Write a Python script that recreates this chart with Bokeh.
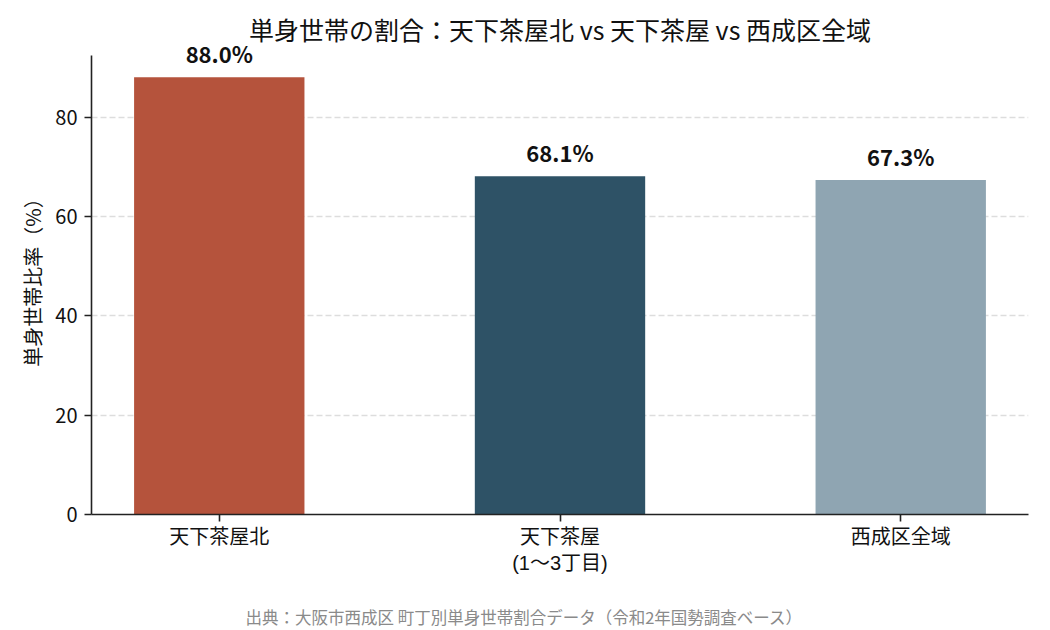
from bokeh.plotting import figure
from bokeh.models import ColumnDataSource, LabelSet, Range1d, FactorRange, Title
from bokeh.core.properties import value
from bokeh.embed import file_html
from bokeh.resources import INLINE

# ---- data ----
categories = ["天下茶屋北", "天下茶屋\n(1〜3丁目)", "西成区全域"]
values = [88.0, 68.1, 67.3]
colors = ["#B5533C", "#2E5266", "#8FA5B2"]
value_labels = [f"{v:.1f}%" for v in values]
y_ticks = [0, 20, 40, 60, 80]

title_text = "単身世帯の割合：天下茶屋北 vs 天下茶屋 vs 西成区全域"
y_label = "単身世帯比率（%）"
footer_text = "出典：大阪市西成区 町丁別単身世帯割合データ（令和2年国勢調査ベース）"

FONT = "Noto Sans CJK JP"
XFONT = "'Liberation Sans', 'Noto Sans CJK JP'"

axis_top = max(values) * 1.05          # end of the visible y spine
view_top = axis_top + 3.0              # headroom so the value labels are not clipped

src = ColumnDataSource(dict(cat=categories, val=values, color=colors, label=value_labels))

p = figure(
    width=1050, height=630,
    x_range=FactorRange(*categories, range_padding=-0.125, range_padding_units="absolute"),
    y_range=Range1d(0, view_top),
    output_backend="svg", toolbar_location=None,
    min_border_left=91, min_border_right=22, min_border_top=40, min_border_bottom=116,
)

p.vbar(x="cat", top="val", width=0.5, fill_color="color", line_color=None, source=src)

labels = LabelSet(x="cat", y="val", text="label", source=src, y_offset=8,
                  text_align="center", text_baseline="bottom",
                  text_font=value(FONT), text_font_size="22px", text_font_style="bold",
                  text_color="#111111")
p.add_layout(labels)

# title
p.title.text = title_text
p.title.align = "center"
p.title.text_font = FONT
p.title.text_font_size = "25px"
p.title.text_font_style = "normal"
p.title.text_color = "#111111"
p.title.standoff = -13

# spacer between x-axis labels and the source note
spacer = Title(text=" ", text_font_size="1px", standoff=23)
p.add_layout(spacer, "below")

# footer (source note)
footer = Title(text=footer_text, align="left", offset=154, text_font=FONT,
               text_font_size="16.5px", text_font_style="normal", text_color="#8a8a8a",
               standoff=0)
p.add_layout(footer, "below")

p.outline_line_color = None
p.xgrid.grid_line_color = None
p.ygrid.grid_line_color = "#dddddd"
p.ygrid.grid_line_dash = "6 3"
p.ygrid.grid_line_width = 1.5

p.yaxis.ticker = y_ticks
p.yaxis.bounds = (0, axis_top)
p.yaxis.axis_label = y_label
p.yaxis.axis_label_text_font = FONT
p.yaxis.axis_label_text_font_size = "20px"
p.yaxis.axis_label_text_font_style = "normal"
p.yaxis.axis_label_text_color = "#111111"
p.yaxis.axis_label_standoff = 5

for ax in (p.xaxis, p.yaxis):
    ax.axis_line_color = "#222222"
    ax.axis_line_width = 1.6
    ax.major_tick_line_color = "#222222"
    ax.major_tick_line_width = 1.6
    ax.major_tick_out = 7
    ax.major_tick_in = 0
    ax.minor_tick_line_color = None
    ax.major_label_text_font = FONT
    ax.major_label_text_font_size = "20px"
    ax.major_label_text_color = "#111111"
    ax.major_label_standoff = 7

p.xaxis.major_label_text_font = XFONT
p.xaxis.major_label_standoff = 4

open("out.html", "w").write(file_html(p, INLINE))
